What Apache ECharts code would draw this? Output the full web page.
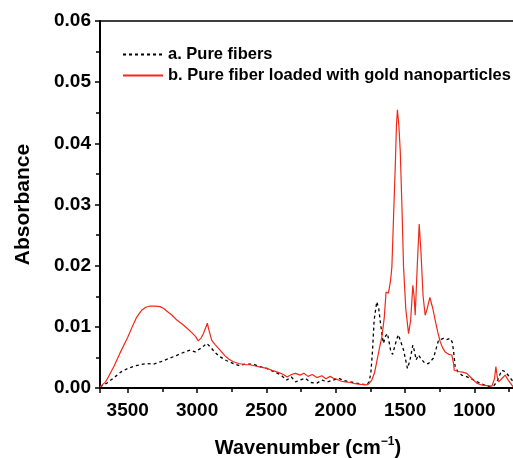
<!DOCTYPE html>
<html>
<head>
<meta charset="utf-8">
<script src="https://cdn.jsdelivr.net/npm/echarts@6/dist/echarts.min.js"></script>
<style>
  html, body { margin: 0; padding: 0; background: #fff; }
  #chart { width: 513px; height: 458px; }
</style>
</head>
<body>
<div id="chart"></div>
<script>
  // a. pure fibers (dashed black)
  var waveA = [3700, 3650, 3604, 3550, 3500, 3450, 3411, 3360, 3315, 3260, 3195, 3150, 3099, 3050, 3014, 2980, 2950, 2930, 2900, 2870,
    2834, 2790, 2738, 2700, 2650, 2594, 2550, 2497, 2450, 2400, 2353, 2320, 2290, 2257, 2220, 2180, 2136, 2100, 2060, 2017,
    1980, 1940, 1896, 1850, 1800, 1776, 1760, 1747, 1735, 1723, 1704, 1690, 1680, 1665, 1656, 1640, 1627, 1615, 1603, 1590,
    1579, 1560, 1548, 1530, 1511, 1495, 1483, 1465, 1444, 1432, 1420, 1403, 1379, 1355, 1331, 1295, 1275, 1259, 1223, 1200,
    1175, 1160, 1151, 1139, 1120, 1091, 1060, 1030, 990, 958, 920, 886, 860, 838, 820, 802, 780, 766, 745, 730, 700];
  var absA = [0.0002, 0.0008, 0.0016, 0.0026, 0.0032, 0.0036, 0.0038, 0.0040, 0.0039, 0.0043, 0.0049, 0.0053, 0.0058, 0.0062, 0.0059, 0.0064, 0.0069, 0.0073, 0.0066, 0.0058,
    0.0051, 0.0045, 0.0040, 0.0037, 0.0039, 0.0039, 0.0035, 0.0032, 0.0027, 0.0022, 0.0013, 0.0018, 0.0010, 0.0013, 0.0016, 0.0009, 0.0008, 0.0013, 0.0010, 0.0013,
    0.0016, 0.0012, 0.0010, 0.0008, 0.0006, 0.0005, 0.0010, 0.0024, 0.0060, 0.0111, 0.0141, 0.0130, 0.0111, 0.0085, 0.0073, 0.0085, 0.0089, 0.0075, 0.0060, 0.0055,
    0.0057, 0.0080, 0.0087, 0.0075, 0.0062, 0.0045, 0.0032, 0.0045, 0.0070, 0.0060, 0.0046, 0.0054, 0.0046, 0.0040, 0.0040, 0.0049, 0.0065, 0.0078, 0.0081, 0.0079,
    0.0081, 0.0075, 0.0062, 0.0035, 0.0027, 0.0021, 0.0019, 0.0016, 0.0011, 0.0008, 0.0004, 0.0002, 0.0004, 0.0010, 0.0020, 0.0029, 0.0027, 0.0024, 0.0018, 0.0013, 0.0008];

  // b. pure fiber loaded with gold nanoparticles (red)
  var waveB = [3700, 3680, 3660, 3640, 3600, 3556, 3500, 3460, 3435, 3400, 3370, 3339, 3300, 3267, 3240, 3219, 3180, 3146, 3110, 3074,
    3040, 3010, 2991, 2970, 2954, 2935, 2926, 2915, 2894, 2870, 2834, 2800, 2770, 2738, 2700, 2650, 2618, 2580, 2540, 2497,
    2460, 2420, 2377, 2350, 2320, 2290, 2257, 2230, 2200, 2170, 2136, 2100, 2070, 2040, 2017, 1990, 1960, 1930, 1896, 1860,
    1820, 1776, 1760, 1740, 1720, 1704, 1685, 1667, 1650, 1637, 1620, 1605, 1595, 1583, 1571, 1562, 1555, 1545, 1535, 1523,
    1511, 1495, 1475, 1460, 1444, 1435, 1427, 1412, 1398, 1386, 1370, 1355, 1340, 1321, 1300, 1283, 1265, 1247, 1230, 1211,
    1185, 1163, 1150, 1146, 1115, 1085, 1055, 1020, 983, 950, 910, 874, 855, 845, 835, 826, 800, 778, 760, 740, 720, 700];
  var absB = [0.0002, 0.0006, 0.0010, 0.0018, 0.0035, 0.0057, 0.0083, 0.0104, 0.0116, 0.0127, 0.0132, 0.0134, 0.0134, 0.0133, 0.0130, 0.0126, 0.0119, 0.0111, 0.0105, 0.0098,
    0.0091, 0.0084, 0.0077, 0.0082, 0.0089, 0.0100, 0.0106, 0.0095, 0.0078, 0.0071, 0.0062, 0.0053, 0.0047, 0.0043, 0.0040, 0.0038, 0.0038, 0.0036, 0.0034, 0.0032,
    0.0029, 0.0026, 0.0022, 0.0018, 0.0022, 0.0024, 0.0021, 0.0024, 0.0019, 0.0022, 0.0017, 0.0020, 0.0015, 0.0019, 0.0016, 0.0014, 0.0011, 0.0010, 0.0009, 0.0007,
    0.0006, 0.0005, 0.0007, 0.0013, 0.0025, 0.0043, 0.0065, 0.0084, 0.0115, 0.0157, 0.0155, 0.0175, 0.0198, 0.0280, 0.0360, 0.0430, 0.0455, 0.0430, 0.0389, 0.0300,
    0.0198, 0.0130, 0.0089, 0.0110, 0.0168, 0.0150, 0.0119, 0.0200, 0.0268, 0.0225, 0.0150, 0.0119, 0.0130, 0.0148, 0.0130, 0.0111, 0.0092, 0.0076, 0.0066, 0.0059,
    0.0055, 0.0054, 0.0040, 0.0029, 0.0027, 0.0026, 0.0024, 0.0016, 0.0008, 0.0005, 0.0004, 0.0003, 0.0015, 0.0035, 0.0018, 0.0010, 0.0016, 0.0021, 0.0014, 0.0008, 0.0002, 0.0001];

  var nameA = 'a. Pure fibers';
  var nameB = 'b. Pure fiber loaded with gold nanoparticles';

  function pairs(xs, ys) {
    return xs.map(function (x, i) { return [x, ys[i]]; });
  }

  var font = 'Liberation Sans, Arial, sans-serif';
  var chart = echarts.init(document.getElementById('chart'));
  var option = {
    animation: false,
    grid: {
      left: 100, right: -3, top: 21, bottom: 70,
      outerBoundsMode: 'none',
      show: true, borderColor: '#000', borderWidth: 1.5
    },
    legend: {
      orient: 'vertical',
      left: 117, top: 41,
      itemWidth: 40, itemHeight: 14, itemGap: 4,
      itemStyle: { opacity: 0 },
      textStyle: { fontFamily: font, fontWeight: 'bold', fontSize: 16.5, color: '#000' },
      data: [nameA, nameB]
    },
    xAxis: {
      type: 'value',
      inverse: true,
      min: 700, max: 3700,
      name: '{n|Wavenumber (cm}{s|−1}{n|)}',
      nameLocation: 'middle',
      nameGap: 48,
      nameTextStyle: {
        rich: {
          n: { fontFamily: font, fontWeight: 'bold', fontSize: 20, color: '#000' },
          s: { fontFamily: font, fontWeight: 'bold', fontSize: 12, color: '#000', padding: [0, 0, 12, 0] }
        }
      },
      axisLine: { lineStyle: { color: '#000', width: 2 } },
      axisTick: { length: 5, lineStyle: { color: '#000', width: 1.5 } },
      minorTick: { show: true, splitNumber: 2, length: 4, lineStyle: { color: '#000', width: 1.5 } },
      splitLine: { show: false },
      axisLabel: {
        showMinLabel: false, showMaxLabel: false,
        margin: 13,
        formatter: function (v) { return String(v); },
        fontFamily: font, fontWeight: 'bold', fontSize: 19, color: '#000'
      }
    },
    yAxis: {
      type: 'value',
      min: 0, max: 0.06, interval: 0.01,
      name: 'Absorbance',
      nameLocation: 'middle',
      nameGap: 66,
      nameTextStyle: { fontFamily: font, fontWeight: 'bold', fontSize: 21, color: '#000' },
      axisLine: { show: true, lineStyle: { color: '#000', width: 2 } },
      axisTick: { length: 5, lineStyle: { color: '#000', width: 1.5 } },
      minorTick: { show: true, splitNumber: 2, length: 4, lineStyle: { color: '#000', width: 1.5 } },
      splitLine: { show: false },
      axisLabel: {
        margin: 9,
        formatter: function (v) { return v.toFixed(2); },
        fontFamily: font, fontWeight: 'bold', fontSize: 19, color: '#000'
      }
    },
    series: [
      {
        name: nameA,
        type: 'line',
        symbol: 'none',
        data: pairs(waveA, absA),
        itemStyle: { color: '#000' },
        lineStyle: { color: '#000', width: 1.3, type: [3, 3] }
      },
      {
        name: nameB,
        type: 'line',
        symbol: 'none',
        data: pairs(waveB, absB),
        itemStyle: { color: '#f02818' },
        lineStyle: { color: '#f02818', width: 1.2 }
      }
    ]
  };
  chart.setOption(option);
</script>
</body>
</html>
